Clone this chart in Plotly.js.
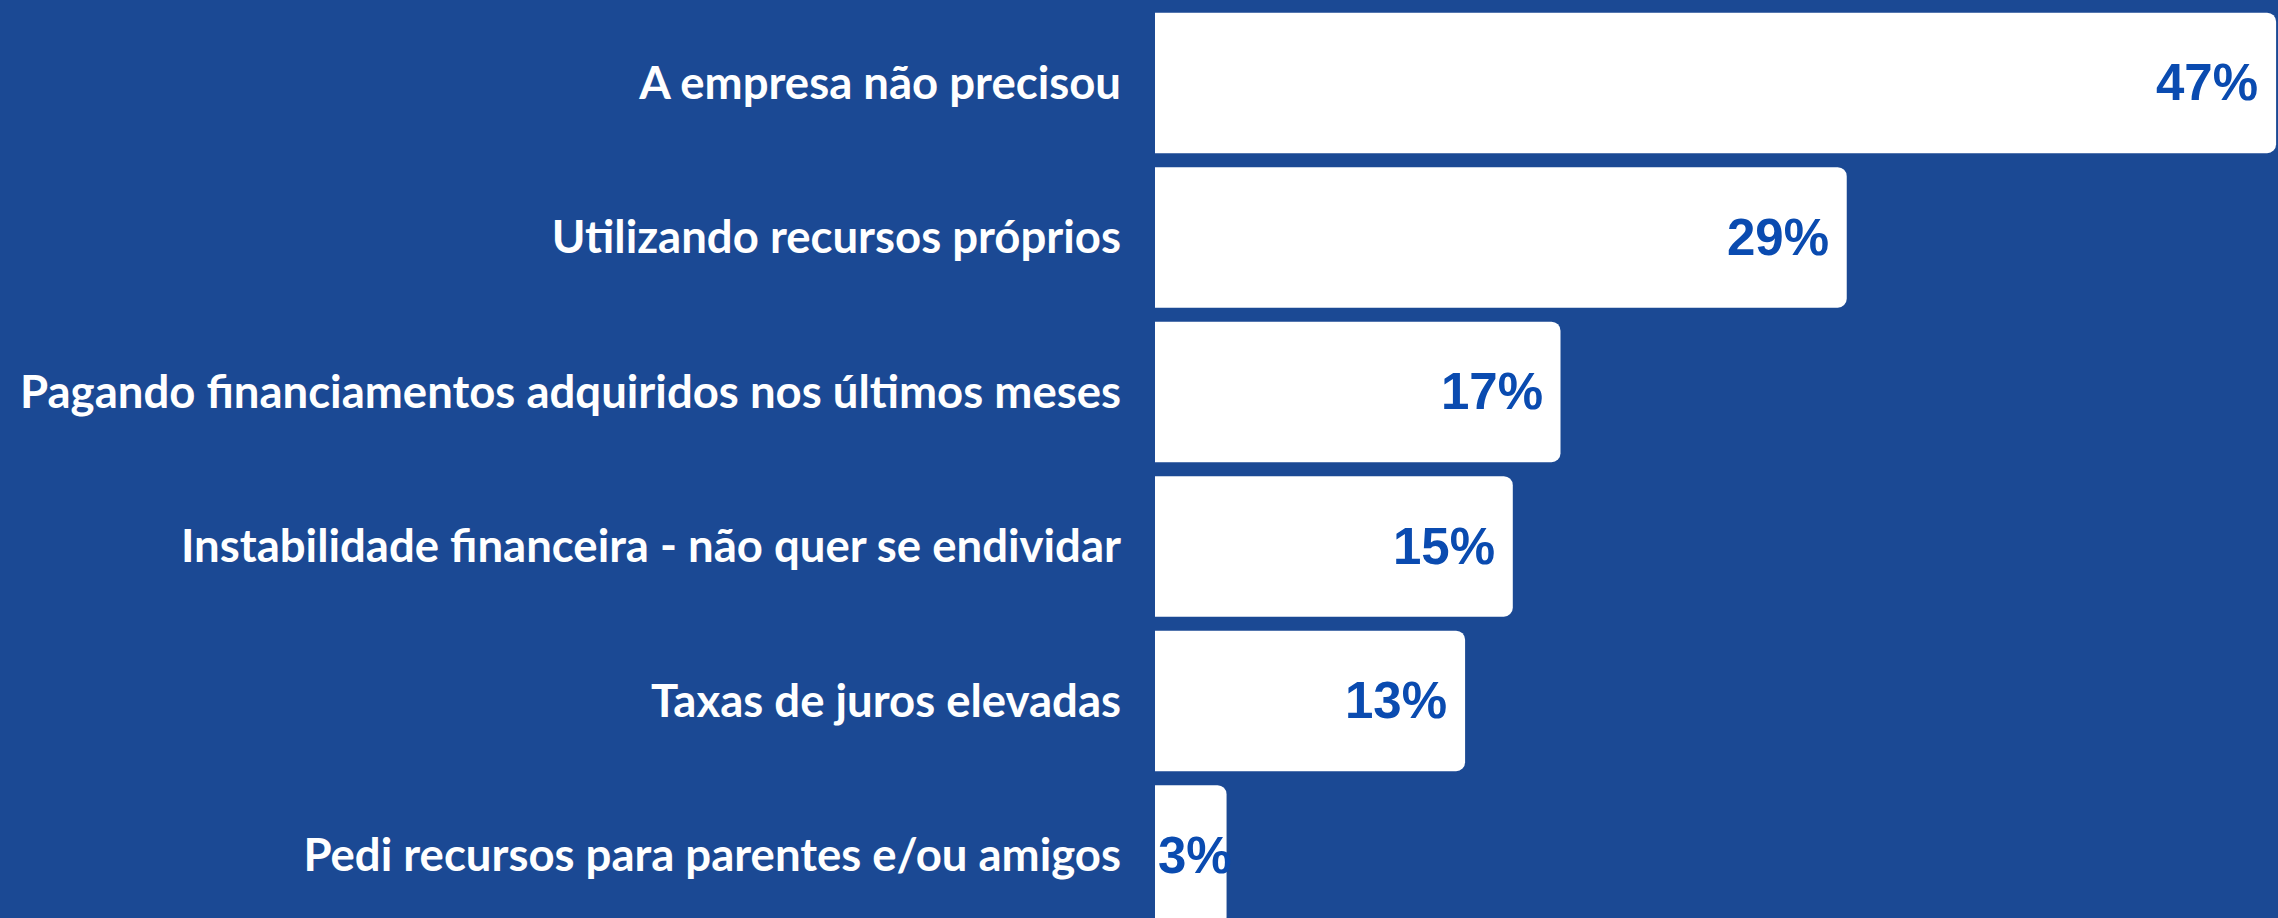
<!DOCTYPE html>
<html>
<head>
<meta charset="utf-8">
<script src="https://cdn.plot.ly/plotly-3.0.1.min.js"></script>
<style>
html,body{margin:0;padding:0;background:#1b4994;}
#chart{width:2278px;height:918px;}
</style>
</head>
<body>
<div id="chart"></div>
<script>
const categories = [
  "A empresa não precisou",
  "Utilizando recursos próprios",
  "Pagando financiamentos adquiridos nos últimos meses",
  "Instabilidade financeira - não quer se endividar",
  "Taxas de juros elevadas",
  "Pedi recursos para parentes e/ou amigos"
];
const values = [47, 29, 17, 15, 13, 3];
const valueLabels = values.map(v => v + "%");

const bars = {
  type: "bar",
  orientation: "h",
  y: categories,
  x: values,
  marker: {color: "#ffffff", cornerradius: 9, line: {width: 0}},
  hoverinfo: "none"
};

// label placement: right-aligned inside the bar end, or left-aligned at bar start when the bar is too short
const labelFont = {family: "Liberation Sans, Arial, sans-serif", size: 51, color: "#0a4bb0", weight: 700};
const annotations = values.map((v, i) => {
  const fits = v >= 6;
  return {
    x: fits ? v : 0,
    y: categories[i],
    xref: "x",
    yref: "y",
    text: valueLabels[i],
    showarrow: false,
    xanchor: fits ? "right" : "left",
    yanchor: "middle",
    xshift: fits ? -16 : 1,
    font: labelFont
  };
});

const layout = {
  width: 2278,
  height: 918,
  margin: {l: 1155, r: 0, t: 0, b: 0, pad: 0},
  paper_bgcolor: "#1b4994",
  plot_bgcolor: "#1b4994",
  bargap: 0.09,
  showlegend: false,
  annotations: annotations,
  xaxis: {range: [0, 47.08], visible: false, fixedrange: true},
  yaxis: {
    type: "category",
    range: [5.405, -0.537],
    showgrid: false,
    zeroline: false,
    showline: false,
    ticks: "",
    ticklabelstandoff: 33,
    tickfont: {family: "Lato, sans-serif", size: 45.5, color: "#ffffff", weight: 700},
    fixedrange: true
  }
};

Plotly.newPlot("chart", [bars], layout, {staticPlot: true, displayModeBar: false});
</script>
</body>
</html>
